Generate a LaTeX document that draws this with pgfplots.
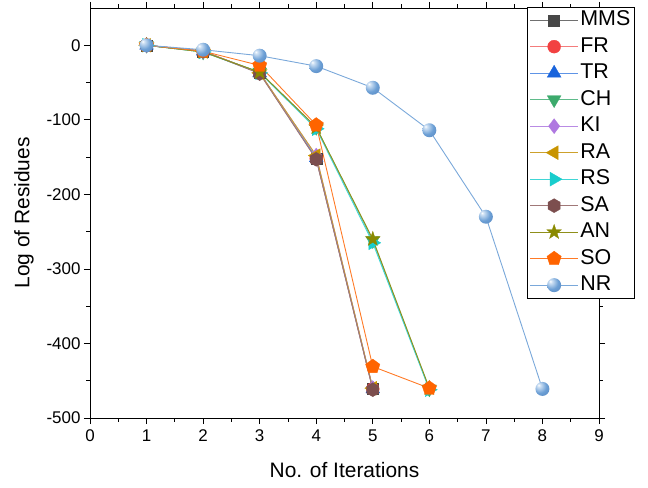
\documentclass[border=0pt]{standalone}
\usepackage{pgfplots}
\pgfplotsset{compat=1.18}
\usetikzlibrary{plotmarks}
\usepackage{fontspec}
\setmainfont{Liberation Sans}
\definecolor{cMMSm}{HTML}{474747}\definecolor{cMMSl}{HTML}{707070}
\definecolor{cFRm}{HTML}{F24141}\definecolor{cFRl}{HTML}{F47C7C}
\definecolor{cTRm}{HTML}{1964DC}\definecolor{cTRl}{HTML}{5E94E6}
\definecolor{cCHm}{HTML}{3CAA6C}\definecolor{cCHl}{HTML}{5FBB8A}
\definecolor{cKIm}{HTML}{AF78E0}\definecolor{cKIl}{HTML}{B98BE4}
\definecolor{cRAm}{HTML}{C89400}\definecolor{cRAl}{HTML}{CDA12C}
\definecolor{cRSm}{HTML}{19CDCD}\definecolor{cRSl}{HTML}{40D6D6}
\definecolor{cSAm}{HTML}{7C4E4E}\definecolor{cSAl}{HTML}{A07878}
\definecolor{cANm}{HTML}{8A8A00}\definecolor{cANl}{HTML}{8F8F1A}
\definecolor{cSOm}{HTML}{FF6400}\definecolor{cSOl}{HTML}{FF7A26}
\definecolor{cNRl}{HTML}{7AA8DA}
\definecolor{nrhi}{HTML}{D2E3F5}\definecolor{nrmid}{HTML}{6C9FD5}\definecolor{nrdark}{HTML}{5585BE}
\pgfdeclareradialshading{nrballshade}{\pgfpoint{-14bp}{14bp}}{color(0bp)=(white); color(5bp)=(nrhi); color(24bp)=(nrmid); color(45bp)=(nrdark); color(80bp)=(nrdark)}
\pgfdeclareplotmark{nrball}{%
  \pgfpathcircle{\pgfpointorigin}{\pgfplotmarksize}%
  \pgfshadepath{nrballshade}{0}\pgfusepath{discard}}
\pgfdeclareplotmark{hexagon*}{%
  \pgfpathmoveto{\pgfqpointpolar{90}{\pgfplotmarksize}}%
  \pgfpathlineto{\pgfqpointpolar{150}{\pgfplotmarksize}}%
  \pgfpathlineto{\pgfqpointpolar{210}{\pgfplotmarksize}}%
  \pgfpathlineto{\pgfqpointpolar{270}{\pgfplotmarksize}}%
  \pgfpathlineto{\pgfqpointpolar{330}{\pgfplotmarksize}}%
  \pgfpathlineto{\pgfqpointpolar{30}{\pgfplotmarksize}}%
  \pgfpathclose\pgfusepathqfillstroke}
\pgfdeclareplotmark{fstar}{%
  \pgfpathmoveto{\pgfqpointpolar{90}{1.2\pgfplotmarksize}}%
  \pgfpathlineto{\pgfqpointpolar{126}{0.48\pgfplotmarksize}}%
  \pgfpathlineto{\pgfqpointpolar{162}{1.2\pgfplotmarksize}}%
  \pgfpathlineto{\pgfqpointpolar{198}{0.48\pgfplotmarksize}}%
  \pgfpathlineto{\pgfqpointpolar{234}{1.2\pgfplotmarksize}}%
  \pgfpathlineto{\pgfqpointpolar{270}{0.48\pgfplotmarksize}}%
  \pgfpathlineto{\pgfqpointpolar{306}{1.2\pgfplotmarksize}}%
  \pgfpathlineto{\pgfqpointpolar{342}{0.48\pgfplotmarksize}}%
  \pgfpathlineto{\pgfqpointpolar{18}{1.2\pgfplotmarksize}}%
  \pgfpathlineto{\pgfqpointpolar{54}{0.48\pgfplotmarksize}}%
  \pgfpathclose\pgfusepathqfillstroke}
\begin{document}
\begin{tikzpicture}
\begin{axis}[
  scale only axis, width=509bp, height=410bp,
  xmin=0, xmax=9, ymin=-500, ymax=50,
  xtick={0,...,9}, ytick={-500,-400,...,0},
  minor x tick num=1, minor y tick num=1,
  tick align=outside,
  major tick length=6bp, minor tick length=3.5bp,
  every tick/.style={black, line width=0.7pt},
  axis line style={line width=0.8pt},
  /pgf/number format/assume math mode=true,
  tick label style={font=\fontsize{17}{20}\selectfont},
  xticklabel style={yshift=-2bp},
  label style={font=\fontsize{21}{25}\selectfont},
  xlabel={No. of Iterations}, ylabel={Log of Residues},
  xlabel style={yshift=-14bp},
  ylabel style={yshift=6bp},
  legend style={at={(0.8585,1.0024)}, anchor=north west, draw=black, line width=0.8pt,
    font=\fontsize{21.5}{25}\selectfont, row sep=3bp, inner xsep=2.5bp, inner ysep=1bp,
    nodes={inner sep=2bp, text height=15.5bp, text depth=4bp},
    /tikz/every even column/.append style={column sep=2bp}},
  legend cell align=left,
  legend image code/.code={\draw[#1, mark repeat=2, mark phase=2] plot coordinates {(0cm,0cm) (0.84cm,0cm) (1.68cm,0cm)};},
  every axis plot/.append style={line width=0.9pt},
  clip=false,
]
\addplot[cMMSl, mark=square*, mark size=5.5bp, mark options={fill=cMMSm, draw=cMMSm, line width=0.3pt}] coordinates {(1,0)(2,-8)(3,-37)(4,-152)(5,-461)};
\addlegendentry{MMS}
\addplot[cFRl, mark=*, mark size=6.5bp, mark options={fill=cFRm, draw=cFRm, line width=0.3pt}] coordinates {(1,0)(2,-8)(3,-37)(4,-152)(5,-461)};
\addlegendentry{FR}
\addplot[cTRl, mark=triangle*, mark size=8bp, mark options={fill=cTRm, draw=cTRm, line width=0.3pt}] coordinates {(1,0)(2,-8)(3,-37)(4,-151)(5,-461)};
\addlegendentry{TR}
\addplot[cCHl, mark=triangle*, mark size=8bp, mark options={rotate=180, fill=cCHm, draw=cCHm, line width=0.3pt}] coordinates {(1,0)(2,-9)(3,-36)(4,-110)(5,-262)(6,-461)};
\addlegendentry{CH}
\addplot[cKIl, mark=diamond*, mark size=7.5bp, mark options={fill=cKIm, draw=cKIm, line width=0.3pt}] coordinates {(1,0)(2,-8)(3,-37)(4,-148)(5,-460)};
\addlegendentry{KI}
\addplot[cRAl, mark=triangle*, mark size=8bp, mark options={rotate=90, fill=cRAm, draw=cRAm, line width=0.3pt}] coordinates {(1,0)(2,-8)(3,-37)(4,-148)(5,-460)};
\addlegendentry{RA}
\addplot[cRSl, mark=triangle*, mark size=8bp, mark options={rotate=-90, fill=cRSm, draw=cRSm, line width=0.3pt}] coordinates {(1,0)(2,-9)(3,-37)(4,-112)(5,-265)(6,-462)};
\addlegendentry{RS}
\addplot[cSAl, mark=hexagon*, mark size=7bp, mark options={fill=cSAm, draw=cSAm, line width=0.3pt}] coordinates {(1,0)(2,-8)(3,-38)(4,-153)(5,-462)};
\addlegendentry{SA}
\addplot[cANl, mark=fstar, mark size=6.5bp, mark options={fill=cANm, draw=cANm, line width=0.3pt}] coordinates {(1,0)(2,-9)(3,-36)(4,-110)(5,-260)(6,-460)};
\addlegendentry{AN}
\addplot[cSOl, mark=pentagon*, mark size=7.5bp, mark options={fill=cSOm, draw=cSOm, line width=0.3pt}] coordinates {(1,0)(2,-8)(3,-27)(4,-107)(5,-431)(6,-460)};
\addlegendentry{SO}
\addplot[cNRl, mark=nrball, mark size=7bp] coordinates {(1,0)(2,-6)(3,-14)(4,-28)(5,-57)(6,-114)(7,-230)(8,-461)};
\addlegendentry{NR}
\end{axis}
\pgfresetboundingbox
\path ([shift={(-90bp,-70bp)}]current axis.south west) rectangle ([shift={(49bp,8bp)}]current axis.north east);
\end{tikzpicture}
\end{document}
